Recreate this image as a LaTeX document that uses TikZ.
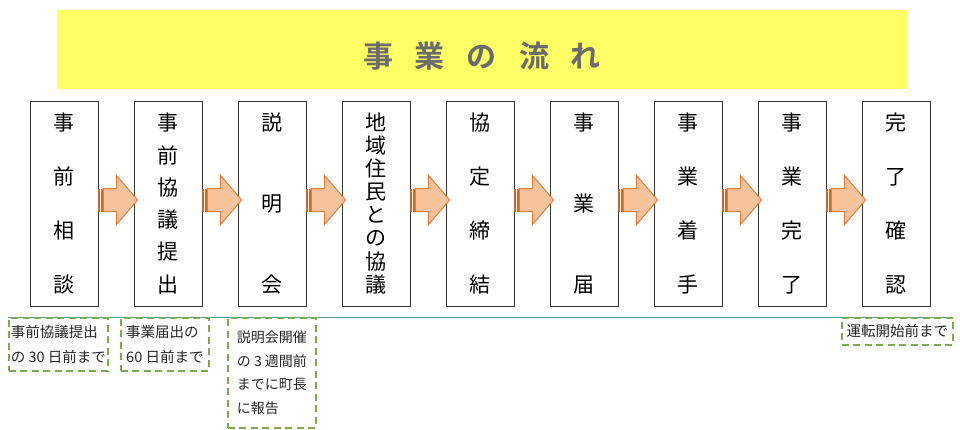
\documentclass[tikz,border=0pt]{standalone}
\usepackage{fontspec}
\setmainfont{Noto Sans CJK JP}[BoldFont={Noto Sans CJK JP Bold}]
\usetikzlibrary{calc}
\definecolor{titlebg}{HTML}{FFFF66}
\definecolor{titlefg}{HTML}{6B6B6B}
\definecolor{arrfill}{HTML}{F8C29C}
\definecolor{arrdraw}{HTML}{E07F3C}
\definecolor{arrdark}{HTML}{CF6520}
\definecolor{dashgreen}{HTML}{7BAA50}
\definecolor{lineteal}{HTML}{5A9AA5}
\newcommand\vcol[1]{\parbox[c][179pt][s]{26pt}{\centering #1}}
\newcommand\flowarrow[2]{%
  \fill[arrdark] ($(#1.east)+(0,-8)$) rectangle ($(#1.east)+(2,15)$);
  \fill[arrdark] ($(#1.east)+(3,-8)$) rectangle ($(#1.east)+(4.5,15)$);
  \draw[arrdraw, fill=arrfill, line width=1pt, line join=miter]
    ($(#1.east)+(5,15)$) -- ($(#2.west)+(-17,15)$) -- ($(#2.west)+(-17,28)$)
    -- ($(#2.west)+(4,3.5)$) -- ($(#2.west)+(-17,-21)$) -- ($(#2.west)+(-17,-8)$)
    -- ($(#1.east)+(5,-8)$) -- cycle;
}
\tikzset{
  stepbox/.style={draw=black!80, line width=0.8pt, fill=white, minimum width=68pt,
    minimum height=205pt, inner sep=0pt, font=\fontsize{21pt}{21pt}\selectfont},
  notebox/.style={draw=dashgreen, line width=1.8pt, dash pattern=on 7pt off 4.5pt,
    fill=white, inner sep=0pt, align=left, anchor=north west,
    font=\fontsize{14.5pt}{25pt}\selectfont, text=black!85},
}
\begin{document}
\begin{tikzpicture}[x=1pt,y=1pt]
\useasboundingbox[fill=white] (0,0) rectangle (960,429);
% title
\node[fill=titlebg, minimum width=850pt, minimum height=79pt, inner sep=0pt] (bar) at (482,379.5) {};
\node[font=\fontsize{30pt}{30pt}\selectfont\bfseries, text=titlefg, inner sep=0pt] (title) at (482,373)
  {事\hspace{22pt}業\hspace{22pt}の\hspace{22pt}流\hspace{22pt}れ};
% steps
\node[stepbox] (b1) at (64,225.5) {\vcol{事\par\vfill 前\par\vfill 相\par\vfill 談}};
\node[stepbox] (b2) at (168,225.5) {\vcol{事\par\vfill 前\par\vfill 協\par\vfill 議\par\vfill 提\par\vfill 出}};
\node[stepbox] (b3) at (272,225.5) {\vcol{説\par\vfill 明\par\vfill 会}};
\node[stepbox] (b4) at (376,225.5) {\vcol{地\par\vfill 域\par\vfill 住\par\vfill 民\par\vfill と\par\vfill の\par\vfill 協\par\vfill 議}};
\node[stepbox] (b5) at (480,225.5) {\vcol{協\par\vfill 定\par\vfill 締\par\vfill 結}};
\node[stepbox] (b6) at (584,225.5) {\vcol{事\par\vfill 業\par\vfill 届}};
\node[stepbox] (b7) at (688,225.5) {\vcol{事\par\vfill 業\par\vfill 着\par\vfill 手}};
\node[stepbox] (b8) at (792,225.5) {\vcol{事\par\vfill 業\par\vfill 完\par\vfill 了}};
\node[stepbox] (b9) at (896,225.5) {\vcol{完\par\vfill 了\par\vfill 確\par\vfill 認}};
% arrows
\flowarrow{b1}{b2}
\flowarrow{b2}{b3}
\flowarrow{b3}{b4}
\flowarrow{b4}{b5}
\flowarrow{b5}{b6}
\flowarrow{b6}{b7}
\flowarrow{b7}{b8}
\flowarrow{b8}{b9}
% notes
\coordinate (lineL) at (8,112);
\coordinate (lineR) at (952,112);
\draw[lineteal, line width=0.8pt] (lineL) -- (lineR);
\node[notebox, minimum width=99pt, minimum height=53pt] (d1) at (8,112) {事前協議提出\\の 30 日前まで};
\node[notebox, minimum width=88pt, minimum height=53pt] (d2) at (120,112) {事業届出の\\60 日前まで};
\node[notebox, minimum width=88pt, minimum height=110pt, font=\fontsize{14pt}{23.5pt}\selectfont] (d3) at (227,112) {説明会開催\\の 3 週間前\\までに町長\\に報告};
\node[notebox, minimum width=111pt, minimum height=27pt] (d4) at (841,112) {運転開始前まで};
\end{tikzpicture}
\end{document}
